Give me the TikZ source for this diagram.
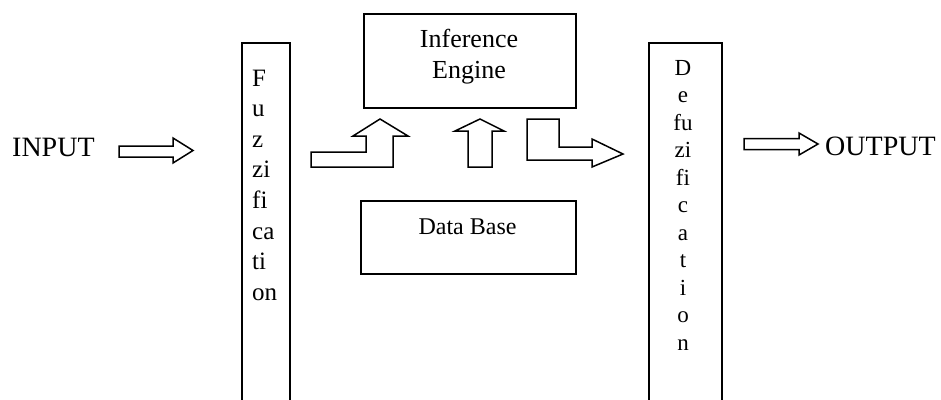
\documentclass[tikz,border=0pt]{standalone}
\usepackage{fontspec}
\setmainfont{Liberation Serif}
\usetikzlibrary{positioning}

\begin{document}
\begin{tikzpicture}[x=1pt,y=-1pt,
    box/.style={draw, line width=1.6pt, inner sep=0pt},
    blockarrow/.style={draw, line width=1.5pt, line join=miter},
    bigtext/.style={inner sep=0pt, font=\fontsize{28}{32}\selectfont},
    boxtext/.style={inner sep=0pt, font=\fontsize{26}{31}\selectfont}]
    \useasboundingbox (0,0) rectangle (941,399);
    \clip (0,0) rectangle (941,399);
    % Draw the blocks
    \node[box, anchor=north west, minimum width=48pt, minimum height=380pt] (fuzz) at (241,42) {};
    \node[box, anchor=north west, minimum width=73pt, minimum height=380pt] (defuzz) at (648,42) {};
    \node[box, anchor=north west, minimum width=212pt, minimum height=94pt] (engine) at (363,13) {};
    \node[box, anchor=north west, minimum width=215pt, minimum height=73pt] (database) at (360,200) {};
    % Draw the labels
    \node[bigtext, anchor=base west] (input) at (12,156) {INPUT};
    \node[bigtext, anchor=base west] (output) at (825,155) {OUTPUT};
    \node[boxtext, anchor=base] (inference) at (469,47) {Inference};
    \node[boxtext, anchor=base] (enginetext) at (469,78) {Engine};
    \node[inner sep=0pt, font=\fontsize{24}{28}\selectfont, anchor=base] (dbtext) at (467.5,234) {Data Base};
    \foreach \s [count=\i from 0] in {F,u,z,zi,fi,ca,ti,on}
        \node[inner sep=0pt, font=\fontsize{25}{30}\selectfont, anchor=base west] (f\i) at (252,86+30.6*\i) {\s};
    \foreach \s [count=\i from 0] in {D,e,fu,zi,fi,c,a,t,i,o,n}
        \node[inner sep=0pt, font=\fontsize{23}{27}\selectfont, anchor=base] (d\i) at (683,75+27.5*\i) {\s};
    % Draw the block arrows
    \draw[blockarrow] (119,146) -- (173,146) -- (173,138) -- (193,150.5) -- (173,163) -- (173,157) -- (119,157) -- cycle;
    \draw[blockarrow] (311,152) -- (366,152) -- (366,136) -- (353,136) -- (380,119) -- (408,136) -- (393,136) -- (393,167) -- (311,167) -- cycle;
    \draw[blockarrow] (468,167) -- (468,131) -- (455,131) -- (480,119) -- (504,131) -- (492,131) -- (492,167) -- cycle;
    \draw[blockarrow] (527,119) -- (559,119) -- (559,147) -- (592,147) -- (592,139) -- (623,154) -- (592,167) -- (592,160) -- (527,160) -- cycle;
    \draw[blockarrow] (744,138.5) -- (799,138.5) -- (799,133) -- (818,144) -- (799,155) -- (799,149.5) -- (744,149.5) -- cycle;
\end{tikzpicture}
\end{document}
